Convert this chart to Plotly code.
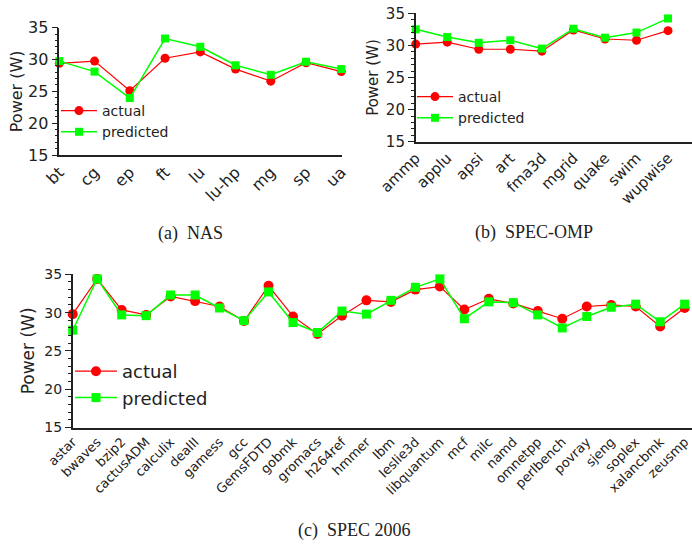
import plotly.graph_objects as go

# ---- data ----
nas_cats = ["bt", "cg", "ep", "ft", "lu", "lu-hp", "mg", "sp", "ua"]
nas_actual = [29.4, 29.75, 25.1, 30.2, 31.2, 28.5, 26.6, 29.5, 28.1]
nas_pred = [29.75, 28.1, 23.95, 33.3, 32.0, 29.1, 27.6, 29.65, 28.5]

omp_cats = ["ammp", "applu", "apsi", "art", "fma3d", "mgrid", "quake", "swim", "wupwise"]
omp_actual = [30.2, 30.5, 29.4, 29.4, 29.1, 32.4, 31.0, 30.8, 32.3]
omp_pred = [32.5, 31.3, 30.4, 30.8, 29.5, 32.6, 31.2, 32.0, 34.2]

spec_cats = ["astar", "bwaves", "bzip2", "cactusADM", "calculix", "dealII", "gamess", "gcc",
             "GemsFDTD", "gobmk", "gromacs", "h264ref", "hmmer", "lbm", "leslie3d",
             "libquantum", "mcf", "milc", "namd", "omnetpp", "perlbench", "povray",
             "sjeng", "soplex", "xalancbmk", "zeusmp"]
spec_actual = [29.8, 34.4, 30.35, 29.7, 32.1, 31.5, 30.8, 28.9, 33.5, 29.5, 27.2, 29.6,
               31.6, 31.4, 33.0, 33.4, 30.4, 31.8, 31.2, 30.2, 29.2, 30.8, 31.0, 30.8,
               28.2, 30.6]
spec_pred = [27.7, 34.4, 29.7, 29.6, 32.3, 32.3, 30.6, 28.95, 32.7, 28.7, 27.4, 30.2,
             29.8, 31.6, 33.3, 34.4, 29.2, 31.4, 31.3, 29.7, 28.0, 29.5, 30.7, 31.1,
             28.8, 31.1]

y_ticks = [15, 20, 25, 30, 35]
captions = ["(a)\u00a0\u00a0NAS", "(b)\u00a0\u00a0SPEC-OMP", "(c)\u00a0\u00a0SPEC 2006"]

W, H = 692, 546
RED = "#ff0000"
GREEN = "#00ff00"
FONT = "DejaVu Sans"

fig = go.Figure()

panels = [
    (nas_cats, nas_actual, nas_pred, "x", "y", "legend", 9),
    (omp_cats, omp_actual, omp_pred, "x2", "y2", "legend2", 9),
    (spec_cats, spec_actual, spec_pred, "x3", "y3", "legend3", 10),
]

for cats, act, pred, xa, ya, lg, ms in panels:
    idx = list(range(len(cats)))
    fig.add_trace(go.Scatter(
        x=idx, y=act, name="actual", mode="lines+markers",
        line=dict(color=RED, width=1.2),
        marker=dict(symbol="circle", size=ms, color=RED),
        xaxis=xa, yaxis=ya, legend=lg, cliponaxis=False))
    fig.add_trace(go.Scatter(
        x=idx, y=pred, name="predicted", mode="lines+markers",
        line=dict(color=GREEN, width=1.5),
        marker=dict(symbol="square", size=ms - 1, color=GREEN),
        xaxis=xa, yaxis=ya, legend=lg, cliponaxis=False))


def px_x(p):
    return p / W


def px_y(p):
    return 1 - p / H


def yaxis_cfg(dom_top_px, dom_bot_px, anchor, tick_font, title_font, standoff):
    return dict(
        domain=[px_y(dom_bot_px), px_y(dom_top_px)], range=[15, 35], anchor=anchor,
        automargin=False,
        tickvals=y_ticks, ticktext=[str(v) for v in y_ticks],
        ticks="outside", ticklen=6, tickwidth=1, tickcolor="#222",
        minor=dict(dtick=1, ticks="outside", ticklen=3, tickcolor="#222", tickwidth=1),
        showline=True, linecolor="#222", linewidth=1.5, showgrid=False, zeroline=False,
        tickfont=dict(family=FONT, size=tick_font, color="#222"),
        title=dict(text="Power (W)", font=dict(family=FONT, size=title_font, color="#222"),
                   standoff=standoff),
    )


def xaxis_cfg(left_px, right_px, rng, cats, anchor, tick_font):
    return dict(
        domain=[px_x(left_px), px_x(right_px)], range=rng, anchor=anchor,
        automargin=False, ticklabeloverflow="allow",
        tickvals=list(range(len(cats))), ticktext=cats, tickangle=-45,
        ticks="", showline=True, linecolor="#222", linewidth=1.5, showgrid=False,
        zeroline=False, tickfont=dict(family=FONT, size=tick_font, color="#222"),
    )


def legend_cfg(x_px, y_px, size, itemwidth):
    return dict(x=px_x(x_px), y=px_y(y_px), xanchor="left", yanchor="top",
                bgcolor="rgba(0,0,0,0)", itemwidth=itemwidth,
                font=dict(family=FONT, size=size, color="#222"))


fig.update_layout(
    width=W, height=H, margin=dict(l=0, r=0, t=0, b=0),
    paper_bgcolor="white", plot_bgcolor="white",
    xaxis=xaxis_cfg(59.3, 342, [0, 8.02], nas_cats, "y", 16),
    yaxis=yaxis_cfg(27.7, 155, "x", 16, 16, 1),
    xaxis2=xaxis_cfg(415.7, 692, [0, 8.76], omp_cats, "y2", 15),
    yaxis2=yaxis_cfg(13.3, 141.7, "x2", 15, 15, 4),
    xaxis3=xaxis_cfg(72.7, 692, [0, 25.3], spec_cats, "y3", 13),
    yaxis3=yaxis_cfg(274.3, 427.5, "x3", 14, 17, 5),
    legend=legend_cfg(56, 95, 14, 36),
    legend2=legend_cfg(412, 81, 14, 36),
    legend3=legend_cfg(70, 353, 18, 42),
    showlegend=True,
)

cap_pos = [(190, 233), (534, 232), (354, 530)]
for text, (cx, cy) in zip(captions, cap_pos):
    fig.add_annotation(text=text, x=px_x(cx), y=px_y(cy), xref="paper", yref="paper",
                       showarrow=False, xanchor="center", yanchor="middle",
                       font=dict(family="Liberation Serif", size=18, color="#222"))

fig.write_html("out.html", config={"displayModeBar": False},
               post_script="document.body.style.margin='0';document.body.style.overflow='hidden';")
